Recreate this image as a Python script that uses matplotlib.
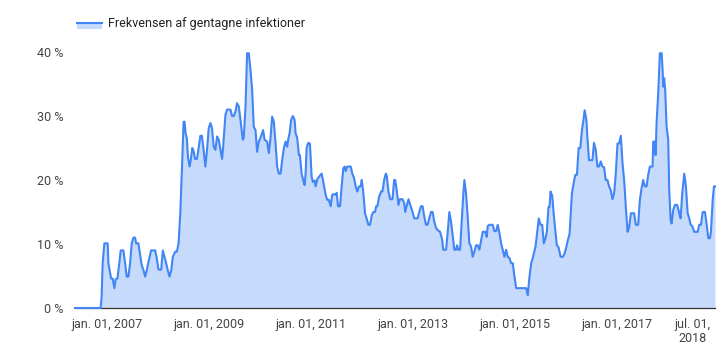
"""Area chart: frequency of repeated infections over time."""

import matplotlib

matplotlib.use("Agg")
import matplotlib.pyplot as plt
import pandas as pd
from matplotlib.patches import Rectangle

# Points: decimal year and percentage
years = [
    2006.364, 2006.868, 2006.888, 2006.907, 2006.941, 2007.006, 2007.020, 2007.073,
    2007.104, 2007.138, 2007.163, 2007.197, 2007.230, 2007.262, 2007.315, 2007.348,
    2007.380, 2007.413, 2007.447, 2007.478, 2007.512, 2007.545, 2007.565, 2007.610,
    2007.630, 2007.675, 2007.709, 2007.742, 2007.774, 2007.807, 2007.860, 2007.939,
    2007.970, 2008.004, 2008.057, 2008.089, 2008.148, 2008.187, 2008.220, 2008.254,
    2008.285, 2008.333, 2008.364, 2008.398, 2008.431, 2008.463, 2008.496, 2008.516,
    2008.535, 2008.561, 2008.581, 2008.614, 2008.640, 2008.667, 2008.693, 2008.719,
    2008.758, 2008.791, 2008.825, 2008.856, 2008.884, 2008.923, 2008.955, 2008.988,
    2009.022, 2009.053, 2009.087, 2009.120, 2009.152, 2009.185, 2009.219, 2009.250,
    2009.270, 2009.317, 2009.348, 2009.415, 2009.447, 2009.480, 2009.514, 2009.545,
    2009.579, 2009.612, 2009.657, 2009.677, 2009.711, 2009.742, 2009.776, 2009.809,
    2009.841, 2009.874, 2009.907, 2009.939, 2009.972, 2010.006, 2010.037, 2010.057,
    2010.085, 2010.136, 2010.169, 2010.203, 2010.234, 2010.268, 2010.301, 2010.333,
    2010.366, 2010.400, 2010.431, 2010.465, 2010.498, 2010.530, 2010.549, 2010.577,
    2010.608, 2010.642, 2010.675, 2010.695, 2010.726, 2010.760, 2010.780, 2010.813,
    2010.844, 2010.872, 2010.892, 2010.911, 2010.943, 2010.976, 2010.990, 2011.010,
    2011.035, 2011.069, 2011.089, 2011.120, 2011.154, 2011.207, 2011.232, 2011.285,
    2011.317, 2011.350, 2011.384, 2011.415, 2011.449, 2011.482, 2011.502, 2011.528,
    2011.567, 2011.600, 2011.632, 2011.659, 2011.679, 2011.711, 2011.778, 2011.809,
    2011.843, 2011.876, 2011.907, 2011.941, 2011.974, 2011.994, 2012.026, 2012.059,
    2012.093, 2012.124, 2012.157, 2012.191, 2012.222, 2012.256, 2012.276, 2012.301,
    2012.335, 2012.374, 2012.400, 2012.433, 2012.467, 2012.486, 2012.518, 2012.551,
    2012.596, 2012.630, 2012.650, 2012.683, 2012.715, 2012.742, 2012.793, 2012.827,
    2012.846, 2012.880, 2012.911, 2012.945, 2012.990, 2013.024, 2013.089, 2013.122,
    2013.156, 2013.187, 2013.220, 2013.254, 2013.285, 2013.319, 2013.352, 2013.384,
    2013.417, 2013.451, 2013.482, 2013.530, 2013.569, 2013.594, 2013.648, 2013.679,
    2013.713, 2013.746, 2013.778, 2013.811, 2013.845, 2013.864, 2013.890, 2013.923,
    2013.955, 2013.988, 2014.008, 2014.041, 2014.073, 2014.106, 2014.140, 2014.171,
    2014.205, 2014.238, 2014.270, 2014.303, 2014.337, 2014.368, 2014.421, 2014.447,
    2014.467, 2014.500, 2014.565, 2014.598, 2014.632, 2014.663, 2014.697, 2014.730,
    2014.762, 2014.795, 2014.829, 2014.860, 2014.894, 2014.927, 2014.959, 2014.992,
    2015.026, 2015.222, 2015.254, 2015.287, 2015.321, 2015.352, 2015.372, 2015.406,
    2015.439, 2015.470, 2015.504, 2015.537, 2015.569, 2015.602, 2015.628, 2015.661,
    2015.681, 2015.701, 2015.734, 2015.760, 2015.793, 2015.825, 2015.858, 2015.898,
    2015.943, 2015.976, 2016.010, 2016.041, 2016.075, 2016.120, 2016.154, 2016.187,
    2016.219, 2016.252, 2016.285, 2016.317, 2016.350, 2016.370, 2016.404, 2016.423,
    2016.455, 2016.522, 2016.553, 2016.587, 2016.620, 2016.652, 2016.685, 2016.719,
    2016.750, 2016.783, 2016.817, 2016.848, 2016.882, 2016.915, 2016.947, 2016.980,
    2017.014, 2017.045, 2017.079, 2017.112, 2017.144, 2017.177, 2017.211, 2017.242,
    2017.276, 2017.341, 2017.374, 2017.419, 2017.453, 2017.486, 2017.518, 2017.551,
    2017.585, 2017.616, 2017.650, 2017.703, 2017.715, 2017.748, 2017.762, 2017.781,
    2017.813, 2017.846, 2017.880, 2017.900, 2017.911, 2017.931, 2017.951, 2017.978,
    2018.010, 2018.030, 2018.057, 2018.077, 2018.108, 2018.142, 2018.187, 2018.226,
    2018.254, 2018.285, 2018.325, 2018.358, 2018.392, 2018.423, 2018.451, 2018.482,
    2018.522, 2018.589, 2018.620, 2018.654, 2018.687, 2018.732, 2018.766, 2018.797,
    2018.831, 2018.850, 2018.884, 2018.909, 2018.929,
]
rates = [
    0.0, 0.0, 1.9, 7.0, 10.1, 10.1, 7.0, 4.6,
    4.6, 3.1, 4.5, 4.6, 6.7, 9.0, 9.0, 7.0,
    4.9, 4.9, 7.0, 10.1, 11.0, 11.0, 10.1, 10.1,
    9.0, 6.7, 5.9, 4.9, 5.9, 7.2, 9.0, 9.0,
    7.8, 6.0, 6.0, 9.0, 7.2, 5.9, 4.9, 5.9,
    8.0, 8.8, 8.8, 10.1, 14.8, 21.6, 29.1, 29.1,
    27.3, 26.5, 23.6, 22.1, 23.3, 25.0, 24.5, 23.3,
    23.3, 25.0, 26.9, 26.9, 25.0, 22.1, 24.7, 28.1,
    28.9, 28.1, 25.2, 24.7, 26.8, 26.3, 24.7, 23.3,
    25.0, 30.2, 31.0, 31.0, 30.0, 30.0, 30.7, 32.0,
    31.5, 29.4, 26.3, 26.6, 31.5, 39.8, 39.8, 37.2,
    34.1, 28.3, 27.8, 24.4, 26.0, 26.6, 27.3, 27.8,
    26.3, 26.0, 24.2, 26.6, 29.9, 29.1, 25.7, 22.1,
    21.0, 21.0, 23.1, 25.0, 26.0, 25.2, 26.3, 27.3,
    29.4, 30.0, 29.4, 27.3, 26.6, 23.9, 23.9, 21.0,
    20.0, 19.2, 21.0, 25.0, 25.8, 25.7, 23.7, 20.5,
    19.7, 19.9, 19.0, 20.1, 20.5, 21.0, 20.0, 17.7,
    16.9, 16.9, 15.9, 17.7, 17.8, 17.7, 18.0, 15.9,
    15.9, 19.0, 21.8, 22.1, 21.4, 22.1, 22.1, 21.0,
    20.3, 19.0, 18.2, 19.0, 19.0, 20.0, 18.0, 14.8,
    13.9, 13.0, 13.0, 14.5, 15.0, 15.0, 15.9, 15.9,
    17.4, 18.2, 18.2, 20.0, 21.0, 20.6, 18.2, 17.0,
    17.0, 20.0, 20.0, 18.2, 16.1, 17.0, 17.0, 16.4,
    15.0, 16.1, 17.0, 16.1, 15.0, 14.0, 14.0, 15.0,
    15.9, 15.9, 14.3, 13.0, 13.0, 14.0, 15.0, 15.0,
    13.5, 12.5, 12.2, 11.9, 10.8, 9.1, 9.1, 11.7,
    15.0, 13.5, 11.4, 9.1, 9.1, 9.8, 9.1, 9.1,
    13.5, 17.9, 20.0, 17.9, 14.3, 10.1, 9.6, 8.0,
    8.8, 9.8, 9.8, 9.1, 10.6, 11.9, 11.9, 11.1,
    12.8, 13.0, 13.0, 12.0, 12.0, 13.0, 11.7, 10.1,
    9.1, 8.0, 9.1, 8.0, 7.8, 7.0, 7.0, 4.9,
    3.1, 3.1, 2.0, 4.9, 7.0, 7.8, 8.5, 9.6,
    11.9, 14.0, 13.0, 13.0, 10.1, 10.9, 11.9, 15.8,
    15.8, 18.2, 17.5, 15.0, 12.2, 9.8, 9.5, 8.0,
    8.0, 8.5, 9.5, 10.6, 11.6, 17.9, 19.5, 20.8,
    20.8, 25.0, 25.0, 27.8, 29.6, 30.9, 29.4, 26.8,
    23.1, 23.1, 25.8, 24.7, 22.1, 22.1, 22.9, 22.1,
    22.0, 20.0, 20.0, 19.0, 18.4, 17.0, 17.9, 21.0,
    25.7, 25.7, 26.9, 22.6, 20.0, 15.8, 11.9, 12.6,
    14.8, 14.8, 13.0, 13.0, 16.9, 18.7, 20.0, 19.0,
    19.0, 20.8, 22.1, 22.1, 26.0, 26.0, 23.9, 28.9,
    33.5, 39.8, 39.8, 37.2, 34.6, 35.9, 34.0, 28.3,
    26.3, 18.4, 13.8, 13.2, 15.3, 16.1, 16.1, 14.8,
    14.0, 17.9, 21.0, 19.0, 14.8, 14.0, 13.0, 12.8,
    11.9, 11.9, 13.0, 13.0, 15.0, 15.0, 13.0, 10.9,
    10.9, 12.0, 16.9, 19.0, 19.0,
]

y_ticks = [0, 10, 20, 30, 40]
y_tick_labels = ["0 %", "10 %", "20 %", "30 %", "40 %"]
x_ticks = ["2007-01-01", "2009-01-01", "2011-01-01", "2013-01-01",
           "2015-01-01", "2017-01-01", "2018-07-01"]
x_tick_labels = ["jan. 01, 2007", "jan. 01, 2009", "jan. 01, 2011",
                 "jan. 01, 2013", "jan. 01, 2015", "jan. 01, 2017",
                 "jul. 01,\n2018"]
series_name = "Frekvensen af gentagne infektioner"

LINE = "#4285f4"
FILL = "#c6dafc"
TEXT = "#444444"


def to_dates(decimal_years):
    """Turn decimal years into timestamps."""
    out = []
    for value in decimal_years:
        year = int(value)
        start = pd.Timestamp(year=year, month=1, day=1)
        end = pd.Timestamp(year=year + 1, month=1, day=1)
        out.append(start + (end - start) * (value - year))
    return pd.DatetimeIndex(out)


plt.rcParams["font.family"] = ["Roboto", "DejaVu Sans"]

dates = to_dates(years)
fig = plt.figure(figsize=(7.28, 3.51), dpi=100)
ax = fig.add_axes([75 / 728, 1 - 308 / 351, 640 / 728, 256 / 351])

ax.axhline(0, color="#333333", linewidth=0.9, clip_on=False, zorder=1)
ax.fill_between(dates, rates, 0, color=FILL, linewidth=0, zorder=0.5)
ax.plot(dates, rates, color=LINE, linewidth=1.5, clip_on=False,
        solid_joinstyle="round", zorder=2)

ax.set_xlim(dates[0], dates[-1])
ax.set_ylim(0, 40)
ax.set_yticks(y_ticks)
ax.set_yticklabels(y_tick_labels)
ax.set_xticks(pd.to_datetime(x_ticks))
ax.set_xticklabels(x_tick_labels, linespacing=1.1)
ax.tick_params(axis="y", length=0, pad=8.5, labelsize=9, labelcolor=TEXT)
ax.tick_params(axis="x", length=0, pad=7, labelsize=9, labelcolor=TEXT)
for spine in ax.spines.values():
    spine.set_visible(False)

# legend: swatch with line on top, label to the right
fig.add_artist(Rectangle((77 / 728, 1 - 29 / 351), 25 / 728, 6 / 351,
                         transform=fig.transFigure, facecolor=FILL,
                         edgecolor="none"))
fig.add_artist(plt.Line2D([77 / 728, 102 / 728], [1 - 23 / 351, 1 - 23 / 351],
                          transform=fig.transFigure, color=LINE, linewidth=1.5))
fig.text(108 / 728, 1 - 24 / 351, series_name, ha="left", va="center",
         fontsize=9, color="#222222")

fig.savefig("out.png", dpi=100)
